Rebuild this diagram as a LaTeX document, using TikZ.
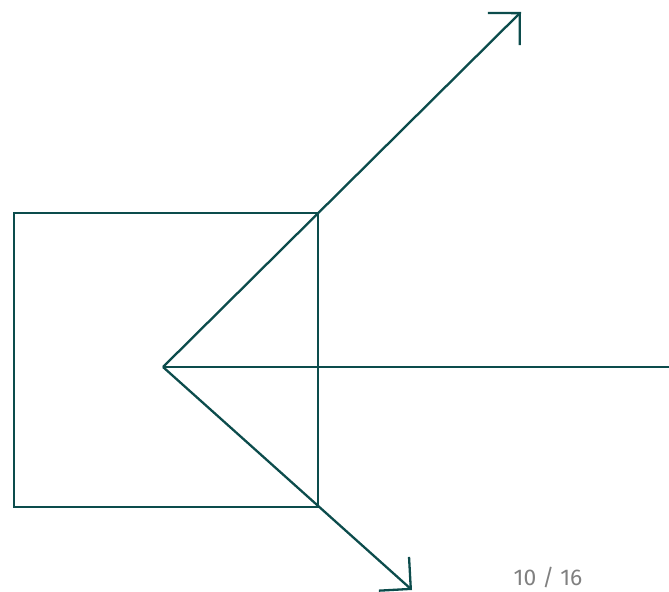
\documentclass[tikz,border=0pt]{standalone}
\usepackage{fontspec}
\setsansfont{Fira Sans}
\usetikzlibrary{arrows.meta}
\definecolor{tealline}{RGB}{12,76,76}
\definecolor{pagegray}{RGB}{128,128,128}

\begin{document}
\begin{tikzpicture}[x=0.5pt,y=-0.5pt,>={Straight Barb[angle=90:16pt]},
  ray/.style={tealline,line width=1.15pt,line join=miter}]
\useasboundingbox (0,0) rectangle (669,592);
\coordinate (src) at (163,367);
\coordinate (sqtl) at (14,213);
\coordinate (sqbr) at (318,507);
\coordinate (uptip) at (521,12);
\coordinate (dntip) at (412,590);
\coordinate (east) at (669,367);
\draw[ray] (sqtl) rectangle (sqbr);
\draw[ray] (src) -- (east);
\draw[ray,->] (src) -- (uptip);
\draw[ray,->] (src) -- (dntip);
\node[font=\sffamily\fontsize{11.4}{13}\selectfont,text=pagegray,inner sep=0pt,anchor=base] (pagenum) at (548,586) {10 / 16};
\end{tikzpicture}
\end{document}
